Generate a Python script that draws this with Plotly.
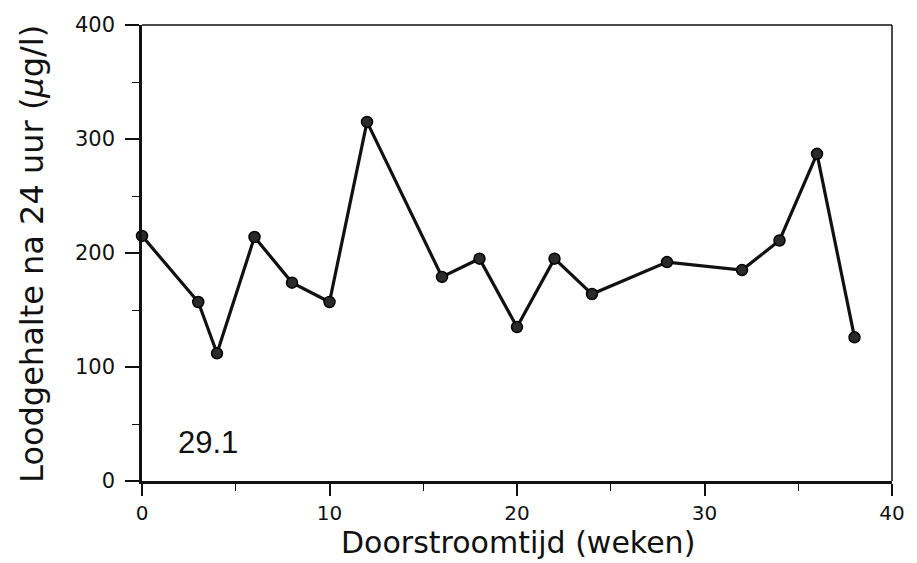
import plotly.graph_objects as go

# Lead concentration after 24 h standing time versus flow-through time
weeks = [0, 3, 4, 6, 8, 10, 12, 16, 18, 20, 22, 24, 28, 32, 34, 36, 38]
lead_ug_per_l = [215, 157, 112, 214, 174, 157, 315, 179, 195, 135, 195, 164, 192, 185, 211, 287, 126]

x_ticks = [0, 10, 20, 30, 40]
y_ticks = [0, 100, 200, 300, 400]
panel_label = "29.1"

W, H = 917, 563
L, R, T, B = 142, 19, 25, 82
pw, ph = W - L - R, H - T - B

fig = go.Figure()
fig.add_trace(go.Scatter(
    x=weeks, y=lead_ug_per_l,
    mode="lines+markers",
    line=dict(color="#111111", width=3.2),
    marker=dict(size=11, color="#2a2a2a", line=dict(color="#000000", width=1.5)),
    cliponaxis=False,
    showlegend=False,
))

tick_font = dict(family="DejaVu Sans", size=20, color="#111111")
fig.update_xaxes(
    range=[0, 40], tickmode="array", tickvals=x_ticks,
    ticks="outside", ticklen=12, tickwidth=1.5, tickcolor="#111111",
    showline=True, linewidth=2.5, linecolor="#111111",
    showgrid=False, zeroline=False, tickfont=tick_font,
    ticklabelstandoff=0,
    minor=dict(ticks="outside", dtick=5, ticklen=7, tickwidth=1.2, tickcolor="#111111", showgrid=False),
)
fig.update_yaxes(
    range=[0, 400], tickmode="array", tickvals=y_ticks,
    ticks="outside", ticklen=14, tickwidth=1.5, tickcolor="#111111",
    showline=True, linewidth=2.5, linecolor="#111111",
    showgrid=False, zeroline=False, tickfont=dict(tick_font, size=21),
    ticklabelstandoff=6,
    minor=dict(ticks="outside", dtick=50, ticklen=7, tickwidth=1.2, tickcolor="#111111", showgrid=False),
)

# thinner top and right frame edges
fig.add_shape(type="line", xref="paper", yref="paper", x0=0, x1=1, y0=1, y1=1,
              line=dict(color="#111111", width=1.5))
fig.add_shape(type="line", xref="paper", yref="paper", x0=1, x1=1, y0=0, y1=1,
              line=dict(color="#111111", width=1.5))

title_font = dict(family="DejaVu Sans", size=30, color="#111111")
fig.add_annotation(
    text="Doorstroomtijd (weken)", xref="paper", yref="paper",
    x=(521 - L) / pw, y=(T + ph - 542) / ph, xanchor="center", yanchor="middle",
    showarrow=False, font=title_font,
)
fig.add_annotation(
    text="Loodgehalte na 24 uur (<i>μ</i>g/l)", xref="paper", yref="paper",
    x=(31 - L) / pw, y=(T + ph - 254) / ph, xanchor="center", yanchor="middle",
    textangle=-90, showarrow=False, font=dict(title_font, size=32),
)
fig.add_annotation(
    text=panel_label, xref="paper", yref="paper",
    x=(209 - L) / pw, y=(T + ph - 442) / ph, xanchor="center", yanchor="middle",
    showarrow=False, font=dict(family="Liberation Sans", size=31, color="#111111"),
)

fig.update_layout(
    width=W, height=H,
    margin=dict(l=L, r=R, t=T, b=B),
    paper_bgcolor="white", plot_bgcolor="white",
)

fig.write_html("out.html")
